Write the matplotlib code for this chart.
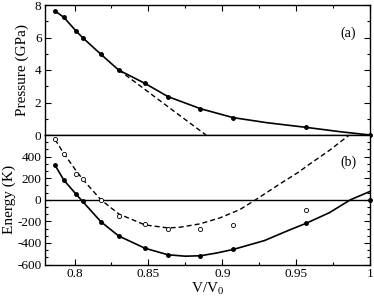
import matplotlib
matplotlib.use("Agg")
import matplotlib.pyplot as plt
from matplotlib.ticker import MultipleLocator, FuncFormatter

plt.rcParams['font.family'] = ['Liberation Serif', 'DejaVu Serif']
plt.rcParams['mathtext.fontset'] = 'custom'
plt.rcParams['mathtext.rm'] = 'Liberation Serif'

# volume points (V/V0)
vol = [0.7868, 0.7928, 0.8010, 0.8055, 0.8178, 0.8298, 0.8476, 0.8633,
       0.8852, 0.9073, 0.9568, 1.0]

# (a) pressure, GPa
pres = [7.63, 7.24, 6.40, 5.99, 4.97, 4.00, 3.18, 2.36, 1.62, 1.07, 0.47, 0.0]
# solid fit through pressure
pfit_x = [0.7868, 0.7928, 0.8010, 0.8055, 0.8178, 0.8298, 0.8476, 0.8633,
          0.8852, 0.9073, 0.930, 0.9568, 0.980, 1.0]
pfit_y = [7.63, 7.24, 6.40, 5.99, 4.97, 4.00, 3.18, 2.36,
          1.62, 1.07, 0.76, 0.47, 0.20, 0.0]
# dashed pressure
pdash_x = [0.830, 0.848, 0.865, 0.889]
pdash_y = [4.00, 2.78, 1.62, 0.0]

# (b) energy, K
e_full = [320, 181, 52, -16, -203, -335, -449, -510, -519, -461, -218, 0]
vol_open = vol[:-1]
e_open = [559, 427, 237, 196, 0, -147, -224, -270, -273, -236, -95]

efit_x = [0.7868, 0.7928, 0.8010, 0.8055, 0.8178, 0.8298, 0.8476, 0.8633,
          0.875, 0.8852, 0.896, 0.9073, 0.9286, 0.9455, 0.9568, 0.9725,
          0.9868, 1.0]
efit_y = [320, 181, 52, -16, -203, -335, -449, -510,
          -523, -519, -494, -461, -378, -280, -218, -120,
          0, 77]
edash_x = [0.7868, 0.7928, 0.8010, 0.8055, 0.8178, 0.830, 0.8476, 0.8633,
           0.8712, 0.8847, 0.8982, 0.9118, 0.9226, 0.9388, 0.9512, 0.959,
           0.9726, 0.985, 0.9865]
edash_y = [559, 427, 270, 190, 0, -132, -233, -261,
           -255, -224, -169, -92, 0, 145, 252, 329,
           458, 590, 605]

fig = plt.figure(figsize=(3.74, 2.96), dpi=100)
W, H = 374, 296
left, right = 45 / W, 370 / W
ax1 = fig.add_axes([left, 1 - 135 / H, right - left, 130 / H])
ax2 = fig.add_axes([left, 1 - 264.5 / H, right - left, 129.5 / H])

for ax in (ax1, ax2):
    ax.set_xlim(0.78, 1.0)
    ax.xaxis.set_major_locator(MultipleLocator(0.05))
    ax.xaxis.set_minor_locator(MultipleLocator(0.025))
    ax.tick_params(which='both', direction='in', labelsize=9.5, width=0.8, pad=2.5)
    ax.tick_params(which='major', length=4.5)
    ax.tick_params(which='minor', length=2.5)
    for s in ax.spines.values():
        s.set_linewidth(1.0)

# top panel
ax1.plot(pfit_x, pfit_y, '-', color='black', lw=1.2)
ax1.plot(pdash_x, pdash_y, '--', color='black', lw=1.0, dashes=(3.6, 2.2))
ax1.plot(vol, pres, 'o', color='black', ms=2.5, clip_on=False, zorder=5)
ax1.set_ylim(0, 8)
ax1.yaxis.set_major_locator(MultipleLocator(2))
ax1.yaxis.set_minor_locator(MultipleLocator(1))
ax1.tick_params(which='both', top=True, right=True, bottom=False, labelbottom=False)
ax1.set_ylabel('Pressure (GPa)', fontsize=11, labelpad=4)
ax1.text(0.957, 0.785, '(a)', transform=ax1.transAxes, ha='right', va='center', fontsize=10)

# bottom panel
ax2.axhline(0, color='black', lw=1.0)
ax2.plot(efit_x, efit_y, '-', color='black', lw=1.2)
ax2.plot(edash_x, edash_y, '--', color='black', lw=1.0, dashes=(3.6, 2.2))
ax2.plot(vol, e_full, 'o', color='black', ms=2.5, clip_on=False, zorder=5)
ax2.plot(vol_open, e_open, 'o', mfc='white', mec='black', mew=0.6, ms=3.0, zorder=5)
ax2.set_ylim(-600, 600)
ax2.yaxis.set_major_locator(MultipleLocator(200))
ax2.yaxis.set_minor_locator(MultipleLocator(200 / 3))
ax2.yaxis.set_major_formatter(FuncFormatter(lambda v, p: '' if v > 550 else '%d' % v))
ax2.xaxis.set_major_formatter(FuncFormatter(lambda v, p: '%g' % round(v, 3)))
ax2.tick_params(which='both', right=True, top=False)
ax2.set_ylabel('Energy (K)', fontsize=11, labelpad=1)
ax2.set_xlabel('V/V$_0$', fontsize=11, labelpad=0)

ax2.text(0.957, 0.787, '(b)', transform=ax2.transAxes, ha='right', va='center', fontsize=10)

fig.savefig('out.png', dpi=100)
